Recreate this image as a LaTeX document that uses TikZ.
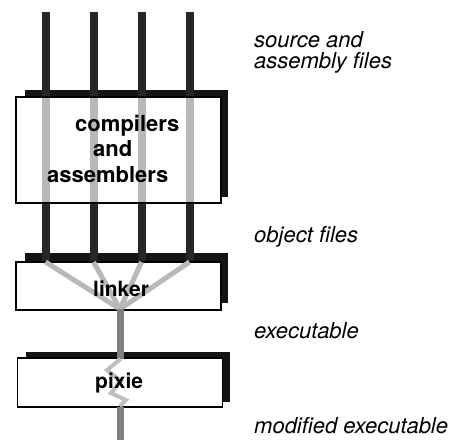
\documentclass[tikz,border=0pt]{standalone}
\usepackage{fontspec}
\setsansfont{TeX Gyre Heros}
\begin{document}
\begin{tikzpicture}[x=1pt,y=-1pt,
  shadowbox/.style={draw=none,fill=black!92,inner sep=0pt,outer sep=0pt},
  stagebox/.style={draw=black,line width=1.1pt,fill=white,inner sep=0pt,outer sep=0pt},
  darkbar/.style={draw=black!85,line width=8pt},
  lightbar/.style={draw=black!28,line width=8pt},
  fanline/.style={draw=black!28,line width=5pt},
  execbar/.style={draw=black!50,line width=7pt},
  zigline/.style={draw=black!25,line width=4pt,line join=miter},
  boxtext/.style={font=\sffamily\bfseries\fontsize{22}{24}\selectfont,inner sep=0pt,anchor=base west},
  filetext/.style={font=\sffamily\itshape\fontsize{22}{21}\selectfont,inner sep=0pt,anchor=base west,align=left}]
\useasboundingbox (0,0) rectangle (470,440);

% tops of the four source streams
\coordinate (s1) at (45.5,12);
\coordinate (s2) at (93.5,12);
\coordinate (s3) at (141.5,12);
\coordinate (s4) at (189.5,12);
\coordinate (lkin) at (0,262);

% drop shadows of the three stages
\node[shadowbox,minimum width=203pt,minimum height=107pt] (compS) at (126.5,143.5) {};
\node[shadowbox,minimum width=203pt,minimum height=50pt] (linkS) at (126.5,278) {};
\node[shadowbox,minimum width=204pt,minimum height=50pt] (pixS) at (128,376.5) {};

% source files down to the linker
\foreach \i in {1,2,3,4}
  \draw[darkbar] (s\i) -- (s\i |- lkin);

% stage boxes
\node[stagebox,minimum width=205pt,minimum height=106pt] (comp) at (118.5,150) {};
\node[stagebox,minimum width=205pt,minimum height=48pt] (link) at (118.5,286) {};
\node[stagebox,minimum width=205pt,minimum height=49pt] (pix) at (120,382.5) {};

% files passing through the compilers
\foreach \i in {1,2,3,4}
  \draw[lightbar] ([yshift=-0.6pt]s\i |- comp.north) -- ([yshift=0.6pt]s\i |- comp.south);

% object files merged by the linker
\coordinate (lkout) at (120,309);
\foreach \i in {1,2,3,4}
  \draw[fanline] (s\i |- link.north) -- (lkout);

% executable into pixie and modified executable out
\coordinate (bottom) at (120,440);
\draw[execbar] (lkout) -- (120,358.5);
\draw[zigline] (120.5,359) -- (107,370) -- (121,381) -- (111,393) -- (126,400) -- (120,406);
\draw[execbar] (pix.south -| lkout) -- (bottom);

% stage names
\node[boxtext] (tc1) at (75,131) {compilers};
\node[boxtext] (tc2) at (93,156) {and};
\node[boxtext] (tc3) at (47,182) {assemblers};
\node[boxtext,font=\sffamily\bfseries\fontsize{21}{24}\selectfont] (tl) at (93,296) {linker};
\node[boxtext,font=\sffamily\bfseries\fontsize{21}{24}\selectfont] (tp) at (95,388) {pixie};

% file kinds
\node[filetext] (f1) at (254,68) {source and\\assembly files};
\node[filetext] (f2) at (254,242) {object files};
\node[filetext] (f3) at (254,338) {executable};
\node[filetext] (f4) at (254,433) {modified executable};
\end{tikzpicture}
\end{document}
